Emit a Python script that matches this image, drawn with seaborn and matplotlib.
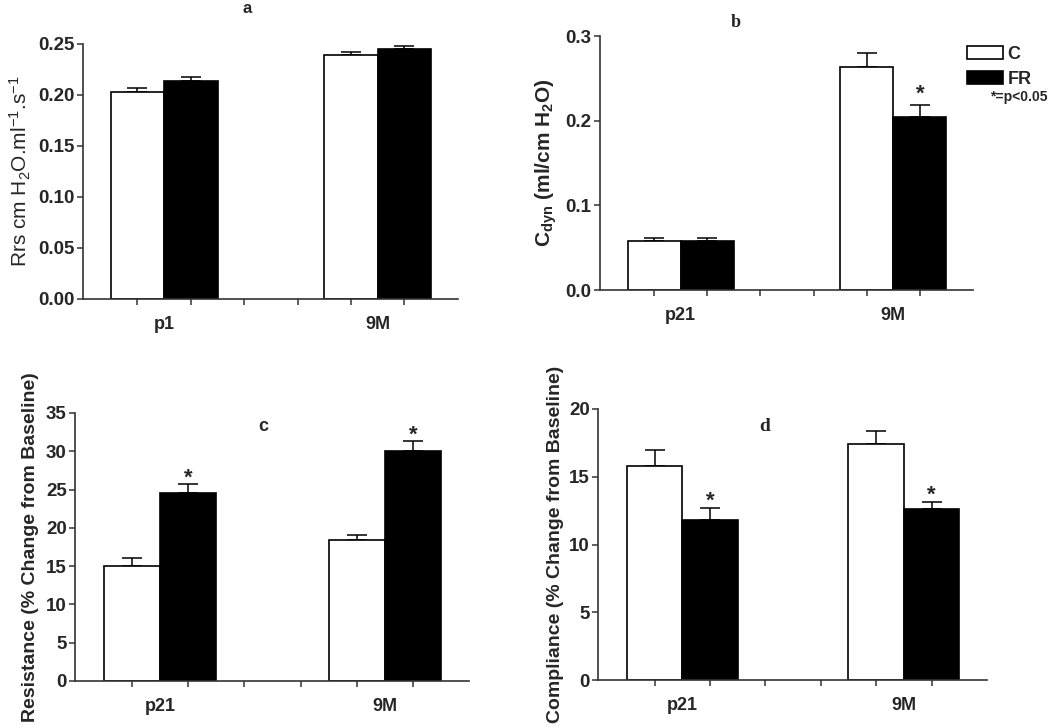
import matplotlib
matplotlib.use("Agg")
import matplotlib.pyplot as plt
from matplotlib.patches import Patch
from matplotlib.container import BarContainer
import seaborn as sns
import pandas as pd

# ---------------- data ----------------
groups_a = ["p1", "9M"]
groups_bcd = ["p21", "9M"]
conditions = ["C", "FR"]

rrs_C = [0.203, 0.239]
rrs_FR = [0.214, 0.245]
rrs_C_err = [0.004, 0.003]
rrs_FR_err = [0.004, 0.003]

cdyn_C = [0.058, 0.263]
cdyn_FR = [0.058, 0.204]
cdyn_C_err = [0.003, 0.017]
cdyn_FR_err = [0.003, 0.015]

res_C = [15.0, 18.4]
res_FR = [24.6, 30.1]
res_C_err = [1.0, 0.6]
res_FR_err = [1.1, 1.3]

comp_C = [15.8, 17.4]
comp_FR = [11.8, 12.6]
comp_C_err = [1.2, 1.0]
comp_FR_err = [0.9, 0.5]

# significance flags (FR vs C)
sig_a = [False, False]
sig_b = [False, True]
sig_c = [True, True]
sig_d = [True, True]

ylim_a, yticks_a = 0.25, [0.00, 0.05, 0.10, 0.15, 0.20, 0.25]
ylim_b, yticks_b = 0.3, [0.0, 0.1, 0.2, 0.3]
ylim_c, yticks_c = 35, [0, 5, 10, 15, 20, 25, 30, 35]
ylim_d, yticks_d = 20, [0, 5, 10, 15, 20]

# ---------------- style ----------------
sns.set_theme(style="ticks")
plt.rcParams["font.family"] = ["Liberation Sans", "DejaVu Sans"]
plt.rcParams["mathtext.fontset"] = "custom"
plt.rcParams["mathtext.rm"] = "Liberation Sans"
plt.rcParams["mathtext.bf"] = "Liberation Sans:bold"
plt.rcParams["mathtext.default"] = "regular"

fig = plt.figure(figsize=(10.5, 7.28), dpi=100)
fig.patch.set_facecolor("white")

positions = {
    "a": [0.079, 0.5893, 0.357, 0.3503],
    "b": [0.5714, 0.6016, 0.3553, 0.3489],
    "c": [0.0714, 0.0646, 0.3753, 0.3681],
    "d": [0.5695, 0.0659, 0.3705, 0.3723],
}


def make_df(groups, cvals, fvals):
    rows = []
    for g, v in zip(groups, cvals):
        rows.append({"group": g, "cond": "C", "value": v})
    for g, v in zip(groups, fvals):
        rows.append({"group": g, "cond": "FR", "value": v})
    return pd.DataFrame(rows)


def panel(key, groups, cvals, fvals, cerr, ferr, sig, ymax, yticks, ylabel,
          ylabel_x, ylabel_kw, tick_fmt, star_off):
    ax = fig.add_axes(positions[key])
    df = make_df(groups, cvals, fvals)
    sns.barplot(data=df, x="group", y="value", hue="cond", order=groups,
                hue_order=conditions, palette={"C": "white", "FR": "black"},
                edgecolor="black", linewidth=1.2, width=0.5, errorbar=None,
                legend=False, ax=ax, zorder=2)
    errs = [cerr, ferr]
    bar_conts = [c for c in ax.containers if isinstance(c, BarContainer)]
    for hi, cont in enumerate(bar_conts):
        for j, bar in enumerate(cont.patches):
            xc = bar.get_x() + bar.get_width() / 2
            h = bar.get_height()
            e = errs[hi][j]
            ax.errorbar(xc, h, yerr=[[0], [e]], fmt="none", ecolor="black",
                        elinewidth=1.1, capsize=7, capthick=1.1, zorder=1)
            if hi == 1 and sig[j]:
                ax.annotate("*", (xc, h + e), xytext=(0, star_off),
                            textcoords="offset points", ha="center",
                            va="bottom", fontsize=16, fontweight="bold")
    ax.set_xlim(-0.38, 1.375)
    ax.set_ylim(0, ymax)
    ax.set_yticks(yticks)
    ax.set_yticklabels([tick_fmt.format(t) for t in yticks],
                       fontsize=13.5, fontweight="bold")
    ax.set_xticks([0, 1])
    ax.set_xticklabels(groups, fontsize=13, fontweight="bold")
    ax.set_xticks([-0.125, 0.125, 0.375, 0.625, 0.875, 1.125], minor=True)
    ax.tick_params(axis="x", which="major", length=0, pad=12)
    ax.tick_params(axis="x", which="minor", length=4, width=1.1,
                   direction="out", color="#333333")
    ax.tick_params(axis="y", which="major", length=4, width=1.1,
                   direction="out", pad=2, color="#333333")
    ax.set_xlabel("")
    ax.set_ylabel(ylabel, **ylabel_kw)
    ax.yaxis.set_label_coords(ylabel_x, 0.5)
    ax.yaxis.label.set_verticalalignment("center")
    for s in ["top", "right"]:
        ax.spines[s].set_visible(False)
    for s in ["left", "bottom"]:
        ax.spines[s].set_linewidth(1.2)
        ax.spines[s].set_color("#333333")
    ax.set_facecolor("white")
    return ax


ax_a = panel("a", groups_a, rrs_C, rrs_FR, rrs_C_err, rrs_FR_err, sig_a,
             ylim_a, yticks_a,
             r"Rrs cm H$_2$O.ml$^{-1}$.s$^{-1}$", -0.168,
             dict(fontsize=15), "{:.2f}", 0)
ax_b = panel("b", groups_bcd, cdyn_C, cdyn_FR, cdyn_C_err, cdyn_FR_err,
             sig_b, ylim_b, yticks_b,
             r"$\mathbf{C_{dyn}}$ (ml/cm H$\mathbf{_2}$O)", -0.143,
             dict(fontsize=15, fontweight="bold"), "{:.1f}", 0)
ax_c = panel("c", groups_bcd, res_C, res_FR, res_C_err, res_FR_err, sig_c,
             ylim_c, yticks_c, "Resistance (% Change from Baseline)", -0.112,
             dict(fontsize=14, fontweight="bold"), "{:d}", -3.5)
ax_d = panel("d", groups_bcd, comp_C, comp_FR, comp_C_err, comp_FR_err,
             sig_d, ylim_d, yticks_d, "Compliance (% Change from Baseline)",
             -0.108, dict(fontsize=14, fontweight="bold"), "{:d}", -2.5)

# panel letters
fig.text(247 / 1050, 1 - 1 / 728, "a", ha="center", va="top",
         fontsize=12, fontweight="bold")
ax_b.text(0.365, 1.055, "b", transform=ax_b.transAxes, ha="center",
          va="center", fontsize=13, fontweight="bold",
          family="Liberation Serif")
ax_c.text(0.477, 0.948, "c", transform=ax_c.transAxes, ha="center",
          va="center", fontsize=13, fontweight="bold")
ax_d.text(0.429, 0.937, "d", transform=ax_d.transAxes, ha="center",
          va="center", fontsize=14, fontweight="bold",
          family="Liberation Serif")

# legend
handles = [Patch(facecolor="white", edgecolor="black", linewidth=1.2,
                 label="C"),
           Patch(facecolor="black", edgecolor="black", linewidth=1.2,
                 label="FR")]
leg = ax_b.legend(handles=handles, loc="upper left",
                  bbox_to_anchor=(967 / 1050, 1 - 46 / 728),
                  bbox_transform=fig.transFigure, frameon=False,
                  borderpad=0, borderaxespad=0, handlelength=2.0,
                  handleheight=0.7, handletextpad=0.25, labelspacing=0.45,
                  prop={"size": 13, "weight": "bold"})
fig.text(990 / 1050, 1 - 97 / 728, "*=p<0.05", ha="left", va="center",
         fontsize=10, fontweight="bold")

fig.savefig("out.png", dpi=100, facecolor="white")
